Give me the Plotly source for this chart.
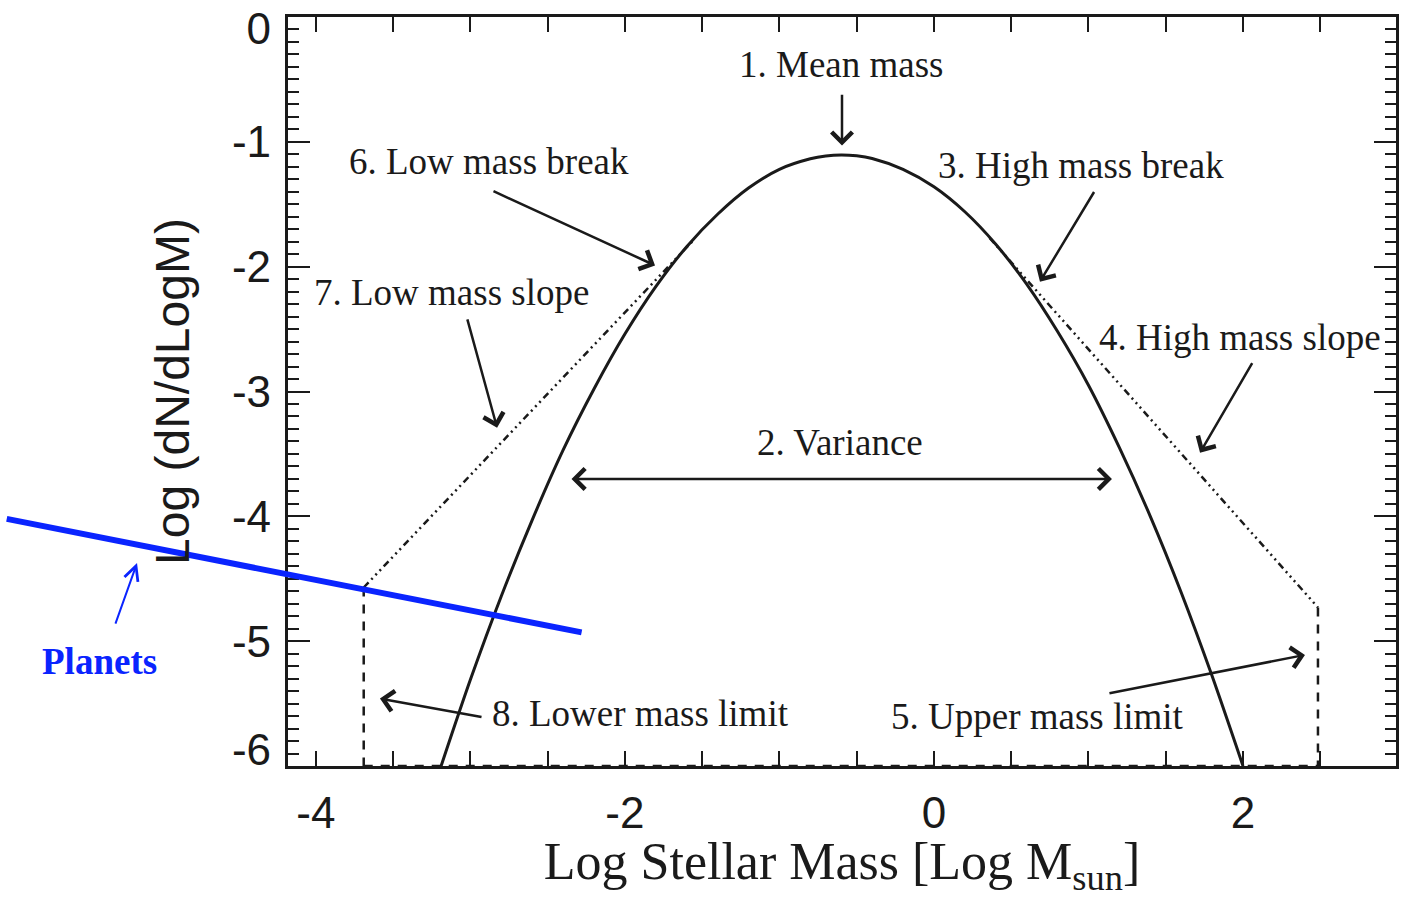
import plotly.graph_objects as go

# ---- data -------------------------------------------------------------
# log-normal body of the IMF (log M, log dN/dlogM)
imf_x = [-3.2, -3.0, -2.8, -2.6, -2.4, -2.2, -2.0, -1.8, -1.6, -1.4, -1.2, -1.0,
         -0.8, -0.7, -0.6, -0.5, -0.4, -0.2, 0.0, 0.2, 0.4, 0.6, 0.8, 1.0, 1.2,
         1.4, 1.6, 1.8, 2.0]
imf_y = [-6.04, -5.31, -4.64, -4.03, -3.47, -2.98, -2.54, -2.16, -1.84, -1.58,
         -1.37, -1.22, -1.136, -1.113, -1.105, -1.112, -1.133, -1.22, -1.36,
         -1.56, -1.82, -2.14, -2.52, -2.95, -3.45, -4.00, -4.61, -5.28, -6.00]

# power-law tails
low_slope_x = [-3.69, -1.55]
low_slope_y = [-4.57, -1.78]
high_slope_x = [0.36, 2.485]
high_slope_y = [-1.77, -4.73]

# mass limits
lower_limit_x = [-3.69, -3.69]
lower_limit_y = [-4.57, -6.0]
upper_limit_x = [2.485, 2.485]
upper_limit_y = [-4.73, -6.0]
floor_x = [-3.69, 2.485]
floor_y = [-6.0, -6.0]

# planet relation
planets_x = [-6.0, -2.28]
planets_y = [-4.02, -4.93]

x_ticks = [-4, -2, 0, 2]
x_ticktext = ["-4", "-2", "0", "2"]
y_ticks = [0, -1, -2, -3, -4, -5, -6]
y_ticktext = ["0", "-1", "-2", "-3", "-4", "-5", "-6"]
# label anchors: end labels sit just inside the frame
y_label_pos = [-0.09, -1, -2, -3, -4, -5, -5.87]

x_range = [-4.18, 2.99]
y_range = [-6.0, 0.0]

# labelled parameters: text, text position, arrow head, arrow tail
labels = [
    ("1. Mean mass",        (-0.60, -0.38), (-0.595, -1.03), (-0.595, -0.61)),
    ("6. Low mass break",   (-2.88, -1.16), (-1.805, -1.99), (-2.86, -1.39)),
    ("3. High mass break",  (0.95, -1.19),  (0.686, -2.12),  (1.042, -1.39)),
    ("7. Low mass slope",   (-3.12, -2.21), (-2.827, -3.29), (-3.022, -2.41)),
    ("4. High mass slope",  (1.98, -2.57),  (1.722, -3.49),  (2.065, -2.76)),
    ("8. Lower mass limit", (-1.90, -5.58), (-3.585, -5.46), (-2.918, -5.61)),
    ("5. Upper mass limit", (0.67, -5.60),  (2.401, -5.11),  (1.126, -5.42)),
]
variance_text = ("2. Variance", (-0.61, -3.41))
variance_span = ([-2.355, 1.152], -3.70)

planets_label = ("Planets", (-5.40, -5.16))
planets_arrow = ((-5.157, -4.374), (-5.30, -4.871))

INK = "#1a1a1a"
BLUE = "#0a24ff"
SERIF = "Liberation Serif, Times New Roman, serif"
SANS = "Liberation Sans, Arial, sans-serif"

W, H = 1404, 898
ML, MR, MT, MB = 288, 8, 17, 132
PLOT_W, PLOT_H = W - ML - MR, H - MT - MB


def to_paper(x, y):
    fx = (x - x_range[0]) / (x_range[1] - x_range[0])
    fy = (y - y_range[0]) / (y_range[1] - y_range[0])
    return fx, fy


fig = go.Figure()

fig.add_trace(go.Scatter(x=imf_x, y=imf_y, mode="lines",
                         line=dict(color=INK, width=3, shape="spline", smoothing=0.8)))

dashdot = "7px,4px,2px,4px,2px,4px,2px,4px"
for xs, ys in [(low_slope_x, low_slope_y), (high_slope_x, high_slope_y)]:
    fig.add_trace(go.Scatter(x=xs, y=ys, mode="lines",
                             line=dict(color=INK, width=2.5, dash=dashdot)))

for xs, ys in [(lower_limit_x, lower_limit_y), (upper_limit_x, upper_limit_y)]:
    fig.add_trace(go.Scatter(x=xs, y=ys, mode="lines",
                             line=dict(color=INK, width=2.5, dash="9px,8px")))
# the floor is drawn against the labelling axis (same range) so that axis renders
fig.add_trace(go.Scatter(x=floor_x, y=floor_y, mode="lines", yaxis="y2",
                         line=dict(color=INK, width=2.5, dash="9px,8px")))

# planet line runs past the left edge of the frame
p0 = to_paper(planets_x[0], planets_y[0])
p1 = to_paper(planets_x[1], planets_y[1])
fig.add_shape(type="line", xref="paper", yref="paper",
              x0=p0[0], y0=p0[1], x1=p1[0], y1=p1[1],
              line=dict(color=BLUE, width=6), layer="above")

annotations = []
for text, (tx, ty), (hx, hy), (sx, sy) in labels:
    annotations.append(dict(x=tx, y=ty, xref="x", yref="y", text=text,
                            showarrow=False, font=dict(family=SERIF, size=37, color=INK)))
    annotations.append(dict(x=hx, y=hy, ax=sx, ay=sy, xref="x", yref="y",
                            axref="x", ayref="y", text="", showarrow=True,
                            arrowhead=4, arrowsize=1.6, arrowwidth=2.5, arrowcolor=INK))

annotations.append(dict(x=variance_text[1][0], y=variance_text[1][1], xref="x", yref="y",
                        text=variance_text[0], showarrow=False,
                        font=dict(family=SERIF, size=37, color=INK)))
annotations.append(dict(x=variance_span[0][1], y=variance_span[1],
                        ax=variance_span[0][0], ay=variance_span[1],
                        xref="x", yref="y", axref="x", ayref="y", text="",
                        showarrow=True, arrowhead=4, startarrowhead=4,
                        arrowside="end+start", arrowsize=1.6, startarrowsize=1.6,
                        arrowwidth=2.5, arrowcolor=INK))

lx, ly = to_paper(*planets_label[1])
annotations.append(dict(x=lx, y=ly, xref="paper", yref="paper",
                        xanchor="center", yanchor="middle",
                        text="<b>" + planets_label[0] + "</b>", showarrow=False,
                        font=dict(family=SERIF, size=37, color=BLUE)))
hx, hy = to_paper(*planets_arrow[0])
sx, sy = to_paper(*planets_arrow[1])
annotations.append(dict(x=hx, y=hy, xref="paper", yref="paper",
                        ax=(sx - hx) * PLOT_W, ay=-(sy - hy) * PLOT_H,
                        axref="pixel", ayref="pixel", text="", showarrow=True,
                        arrowhead=5, arrowsize=1.4, arrowwidth=2, arrowcolor=BLUE))

axis_common = dict(showline=True, linecolor=INK, linewidth=2.5, mirror="allticks",
                   ticks="inside", tickcolor=INK, tickwidth=2, showgrid=False,
                   zeroline=False, automargin=False,
                   tickfont=dict(family=SANS, size=44, color=INK))

fig.update_layout(
    width=W, height=H,
    margin=dict(l=ML, r=MR, t=MT, b=MB, autoexpand=False),
    paper_bgcolor="white", plot_bgcolor="white",
    showlegend=False,
    annotations=annotations,
    xaxis=dict(range=x_range, tickvals=x_ticks, ticktext=x_ticktext, ticklen=15,
               ticklabelstandoff=6,
               minor=dict(dtick=0.5, tick0=0, ticks="inside", ticklen=8,
                          tickcolor=INK, tickwidth=2),
               title=dict(text="Log Stellar Mass [Log M<sub>sun</sub>]",
                          font=dict(family=SERIF, size=52, color=INK), standoff=4),
               **axis_common),
    yaxis=dict(range=y_range, tickvals=y_ticks, ticklen=22, showticklabels=False,
               minor=dict(dtick=0.1, tick0=0, ticks="inside", ticklen=11,
                          tickcolor=INK, tickwidth=2),
               **axis_common),
    yaxis2=dict(range=y_range, overlaying="y", side="left", showline=False,
                ticks="", showgrid=False, zeroline=False, automargin=False,
                tickvals=y_label_pos, ticktext=y_ticktext, ticklabelstandoff=16,
                tickfont=dict(family=SANS, size=44, color=INK),
                title=dict(text="Log (dN/dLogM)",
                           font=dict(family=SANS, size=48, color=INK), standoff=27)),
)

fig.write_html("out.html")
